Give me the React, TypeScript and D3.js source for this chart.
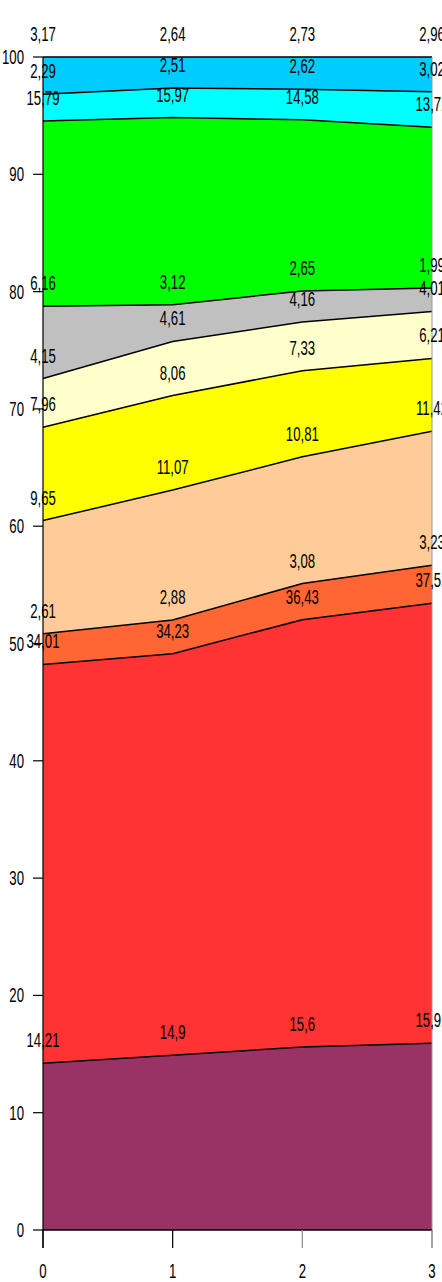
import React from "react";
import * as d3 from "d3";

const xValues = [0, 1, 2, 3];
const seriesKeys = ["s1", "s2", "s3", "s4", "s5", "s6", "s7", "s8", "s9", "s10"];
const s1 = [14.21, 14.9, 15.6, 15.92];
const s2 = [34.01, 34.23, 36.43, 37.52];
const s3 = [2.61, 2.88, 3.08, 3.23];
const s4 = [9.65, 11.07, 10.81, 11.42];
const s5 = [7.96, 8.06, 7.33, 6.21];
const s6 = [4.15, 4.61, 4.16, 4.01];
const s7 = [6.16, 3.12, 2.65, 1.99];
const s8 = [15.79, 15.97, 14.58, 13.72];
const s9 = [2.29, 2.51, 2.62, 3.02];
const s10 = [3.17, 2.64, 2.73, 2.96];
const seriesValues = [s1, s2, s3, s4, s5, s6, s7, s8, s9, s10];
const colors = ["#993366", "#FF3333", "#FF6633", "#FFCC99", "#FFFF00", "#FFFFCC", "#C0C0C0", "#00FF00", "#00FFFF", "#00CCFF"];
const yTicks = [0, 10, 20, 30, 40, 50, 60, 70, 80, 90, 100];
const xTicks = [0, 1, 2, 3];

const W = 442;
const H = 1282;
const left = 43;
const right = 432;
const top = 57;
const bottom = 1230;
const FS = 20;
const SX = 0.66;

const fmt = (v: number) => String(v).replace(".", ",");

export default function App() {
  const x = d3.scaleLinear().domain([0, 3]).range([left, right]);
  const y = d3.scaleLinear().domain([0, 100]).range([bottom, top]);
  const rows = xValues.map((xv, i) => {
    const r: any = { x: xv };
    seriesKeys.forEach((k, j) => (r[k] = seriesValues[j][i]));
    return r;
  });
  const stacked = d3.stack().keys(seriesKeys)(rows as any);
  const area = d3
    .area<any>()
    .x((d) => x(d.data.x))
    .y0((d) => y(d[0]))
    .y1((d) => y(d[1]));
  const line = d3
    .line<any>()
    .x((d) => x(d.data.x))
    .y((d) => y(d[1]));

  const txt = (key: string, tx: number, ty: number, s: string, anchor: string) => (
    <text
      key={key}
      transform={`translate(${tx},${ty}) scale(${SX},1)`}
      textAnchor={anchor}
      fontFamily="Liberation Sans, Arial, sans-serif"
      fontSize={FS}
      fill="#000"
    >
      {s}
    </text>
  );

  return (
    <svg width={W} height={H} style={{ position: "absolute", left: 0, top: 0 }}>
      <rect x={0} y={0} width={W} height={H} fill="#fff" />
      {stacked.map((layer, j) => (
        <path key={"a" + j} d={area(layer as any) || ""} fill={colors[j]} stroke="none" />
      ))}
      {stacked.map((layer, j) => (
        <path key={"l" + j} d={line(layer as any) || ""} fill="none" stroke="#000" strokeWidth={1.5} />
      ))}
      <line x1={right} x2={right} y1={top} y2={bottom + 18} stroke="#999" strokeWidth={1} />
      <line x1={left} x2={left} y1={top} y2={bottom + 18} stroke="#000" strokeWidth={1.2} />
      {yTicks.map((t) => (
        <g key={"yt" + t}>
          <line x1={left - 10} x2={left} y1={y(t)} y2={y(t)} stroke="#000" strokeWidth={1.2} />
          {txt("ytl" + t, 24, y(t) + 7, String(t), "end")}
        </g>
      ))}
      <line x1={left} x2={right} y1={bottom} y2={bottom} stroke="#000" strokeWidth={1.5} />
      {xTicks.map((t) => (
        <g key={"xt" + t}>
          <line x1={x(t)} x2={x(t)} y1={bottom} y2={bottom + 18} stroke={t < 2 ? "#000" : "#888"} strokeWidth={1.2} />
          {txt("xtl" + t, x(t), bottom + 48, String(t), "middle")}
        </g>
      ))}
      {stacked.map((layer, j) =>
        layer.map((d: any, i: number) =>
          txt("v" + j + "_" + i, x(d.data.x), y(d[1]) - 16, fmt(seriesValues[j][i]), "middle")
        )
      )}
    </svg>
  );
}
